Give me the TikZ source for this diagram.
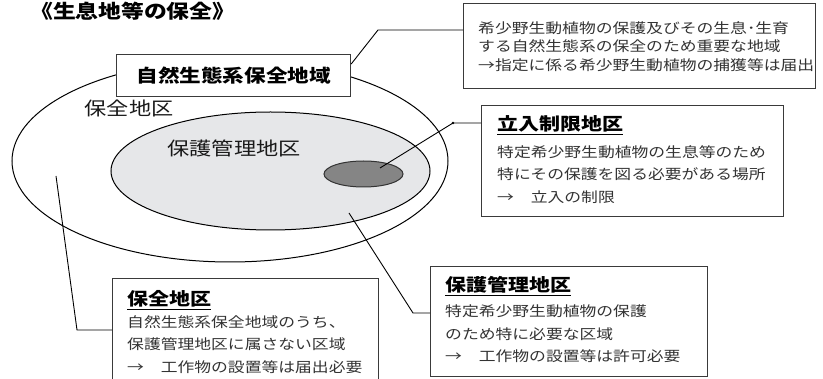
\documentclass[tikz,border=0pt]{standalone}
\usepackage{fontspec}
\setmainfont{Noto Sans CJK JP}[FakeStretch=1.2]
\usetikzlibrary{shapes.geometric}
\definecolor{lgray}{HTML}{E6E7E9}
\definecolor{dgray}{HTML}{858585}
\definecolor{txt}{HTML}{333333}
\definecolor{edge}{HTML}{3A3A3A}
\tikzset{
  boxst/.style={draw=edge, line width=1.2pt, fill=white, inner sep=0pt, anchor=north west},
  body/.style={anchor=north west, inner sep=0pt, align=left, text=txt, font=\fontsize{14}{22.5}\selectfont},
  ttl/.style={anchor=west, inner sep=0pt, font=\bfseries\fontsize{17.5}{20}\selectfont},
  big/.style={inner sep=0pt, text=black!90, font=\fontsize{18.5}{20}\selectfont},
  ell/.style={ellipse, draw=black, line width=1pt, inner sep=0pt},
  conn/.style={draw=black, line width=0.9pt},
}
\begin{document}
\begin{tikzpicture}[x=1pt,y=-1pt]
\useasboundingbox (0,0) rectangle (823,379);
% title
\node[anchor=base west, inner sep=0pt, font=\bfseries\fontsize{19}{20}\selectfont] (title) at (30,18.5) {《生息地等の保全》};
% ellipses
\node[ell, minimum width=436pt, minimum height=202pt] (outer) at (230,161) {};
\node[ell, fill=lgray, minimum width=319pt, minimum height=118pt] (inner) at (270.5,171) {};
\node[ell, fill=dgray, draw=black!80, minimum width=79pt, minimum height=26pt] (core) at (363.5,174) {};
% area labels
\node[big] (lblA) at (129,108) {保全地区};
\node[big] (lblB) at (234,148) {保護管理地区};
% label box
\node[boxst, minimum width=234pt, minimum height=42pt] (main) at (116,54) {};
\node[inner sep=0pt, font=\bfseries\fontsize{18}{20}\selectfont] (mainT) at (main.center) {自然生態系保全地域};
% top-right box
\node[boxst, minimum width=352pt, minimum height=85pt] (tr) at (463,3) {};
\node[body, font=\fontsize{14}{18.5}\selectfont] (trT) at (478,21) {希少野生動植物の保護及びその生息･生育\\する自然生態系の保全のため重要な地域\\→指定に係る希少野生動植物の捕獲等は届出};
% restricted entry box
\node[boxst, minimum width=302pt, minimum height=111pt] (rb) at (481,105) {};
\node[ttl] (rbT) at (497,125) {\underline{立入制限地区}};
\node[body] (rbB) at (497,145) {特定希少野生動植物の生息等のため\\特にその保護を図る必要がある場所\\→\hspace{1.2em}立入の制限};
% protection management box
\node[boxst, minimum width=277pt, minimum height=110pt] (pb) at (430,266) {};
\node[ttl] (pbT) at (445,286) {\underline{保護管理地区}};
\node[body] (pbB) at (445,305) {特定希少野生動植物の保護\\のため特に必要な区域\\→\hspace{1.2em}工作物の設置等は許可必要};
% conservation area box
\node[boxst, minimum width=266pt, minimum height=110pt] (cb) at (112,278) {};
\node[ttl] (cbT) at (127,300) {\underline{保全地区}};
\node[body] (cbB) at (127,315) {自然生態系保全地域のうち、\\保護管理地区に属さない区域\\→\hspace{1.2em}工作物の設置等は届出必要};
% connectors
\coordinate (k0) at (378,30);
\draw[conn] (main.east |- 0,64) -- (k0) -- (k0 -| tr.west);
\coordinate (s1) at (380,168);
\coordinate (k1) at (453,123);
\draw[conn] (s1) -- (k1) -- (k1 -| rb.west);
\fill (k1) circle (1.4pt);
\coordinate (s2) at (349,213);
\coordinate (k2) at (413,313);
\draw[conn] (s2) -- (k2) -- (k2 -| pb.west);
\coordinate (s3) at (56,176);
\coordinate (k3) at (77,330);
\draw[conn] (s3) -- (k3) -- (k3 -| cb.west);
\end{tikzpicture}
\end{document}
